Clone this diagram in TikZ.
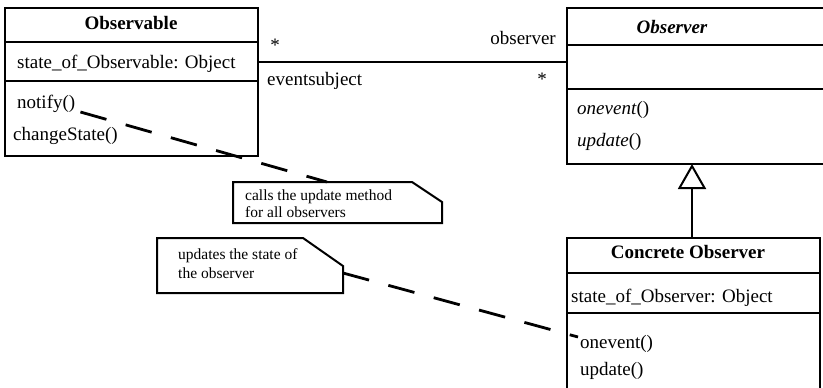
\documentclass[tikz,border=0pt]{standalone}
\usepackage{fontspec}
\setmainfont{Liberation Serif}
\usetikzlibrary{arrows.meta}
\begin{document}
\begin{tikzpicture}[x=1pt,y=-1pt,
  box/.style={draw, line width=2pt, rectangle, inner sep=0pt, outer sep=0pt, anchor=north west},
  area/.style={rectangle, inner sep=0pt, outer sep=0pt, anchor=north west},
  lbl/.style={font=\fontsize{19}{21}\selectfont, inner sep=0pt, anchor=base west},
  title/.style={lbl, font=\fontsize{19}{21}\selectfont\bfseries, anchor=base},
  notetext/.style={font=\fontsize{15.5}{17}\selectfont, inner sep=0pt, anchor=base west},
  notebox/.style={draw, line width=2pt, line join=miter},
  assoc/.style={line width=2pt},
  link/.style={line width=2.8pt, dash pattern=on 27pt off 20pt}]
\clip (0,0) rectangle (823,388);

% --- Observable class ---
\node[box, minimum width=253pt, minimum height=34pt] (obsHead) at (5,8) {};
\node[box, minimum width=253pt, minimum height=39pt] (obsAttr) at (obsHead.south west) {};
\node[box, minimum width=253pt, minimum height=75pt] (obsOps) at (obsAttr.south west) {};
\node[title] (obsName) at (131,30) {Observable};
\node[lbl] (obsState) at (17,68) {state\_of\_Observable: Object};
\node[lbl] (notifyTxt) at (17,108) {notify()};
\node[lbl] (changeTxt) at (13,140) {changeState()};

% --- Observer interface ---
\node[box, minimum width=263pt, minimum height=37pt] (obvHead) at (567,8) {};
\node[box, minimum width=263pt, minimum height=44pt] (obvAttr) at (obvHead.south west) {};
\node[box, minimum width=263pt, minimum height=75pt] (obvOps) at (obvAttr.south west) {};
\node[title, font=\fontsize{19}{21}\selectfont\bfseries\itshape] (obvName) at (672,33) {Observer};
\node[lbl] (obvEvent) at (577,114) {\textit{onevent}()};
\node[lbl] (obvUpdate) at (577,146) {\textit{update}()};

% --- Concrete Observer class ---
\node[box, minimum width=253pt, minimum height=35pt] (conHead) at (567,238) {};
\node[box, minimum width=253pt, minimum height=40pt] (conAttr) at (conHead.south west) {};
\node[box, minimum width=253pt, minimum height=90pt] (conOps) at (conAttr.south west) {};
\node[title] (conName) at (688,258) {Concrete Observer};
\node[lbl] (conState) at (571,302) {state\_of\_Observer: Object};
\node[lbl] (conEvent) at (580,348) {onevent()};
\node[lbl] (conUpdate) at (580,375) {update()};

% --- association between subject and observers ---
\draw[assoc] (obsAttr.east) -- (obvAttr.west |- obsAttr.east);
\node[lbl, anchor=base] (multA) at (275,52) {*};
\node[lbl, anchor=base east] (roleObv) at (556,45) {observer};
\node[lbl] (roleSub) at (267,85) {eventsubject};
\node[lbl, anchor=base] (multB) at (542,85) {*};

% --- generalization ---
\draw[line width=2pt, -{Triangle[open, length=25pt, width=28pt]}]
  (conHead.north -| 692,0) -- (692,164);

% --- notes ---
\node[area, minimum width=209pt, minimum height=41pt] (note1) at (233,182) {};
\draw[notebox] (note1.north west) -- ([xshift=-30pt]note1.north east)
  -- ([yshift=-20pt]note1.north east) -- (note1.south east) -- (note1.south west) -- cycle;
\node[notetext] (note1a) at (245,200) {calls the update method};
\node[notetext] (note1b) at (245,217) {for all observers};

\node[area, minimum width=186pt, minimum height=55pt] (note2) at (157,238) {};
\draw[notebox] (note2.north west) -- ([xshift=-40pt]note2.north east)
  -- ([yshift=-28pt]note2.north east) -- (note2.south east) -- (note2.south west) -- cycle;
\node[notetext] (note2a) at (178,259) {updates the state of};
\node[notetext] (note2b) at (178,278) {the observer};

% --- note anchors ---
\coordinate (hook1) at (327,182);
\coordinate (hook2) at (343,273);
\coordinate (hook3) at (578,337);
\draw[link] ([xshift=5pt,yshift=-4pt]notifyTxt.base east) -- (hook1);
\draw[link] (hook2) -- (hook3);
\end{tikzpicture}
\end{document}
